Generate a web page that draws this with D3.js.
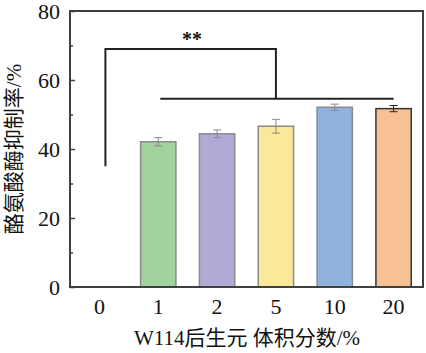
<!DOCTYPE html>
<html>
<head>
<meta charset="utf-8">
<script src="https://cdn.jsdelivr.net/npm/d3@7"></script>
<style>
  body { margin: 0; background: #fff; }
  svg text { font-family: "Liberation Serif", "Noto Sans CJK SC", serif; }
</style>
</head>
<body>
<svg id="chart" width="426" height="353"></svg>
<script>
const categories = ['0', '1', '2', '5', '10', '20']
const values = [0, 42.1, 44.4, 46.6, 52.1, 51.7]
const errors = [0, 1.2, 1.1, 2.0, 0.9, 0.9]
const barColors = ['#ffffff', '#a3d39c', '#b3a9d6', '#fbe99a', '#8fb3de', '#f7c193']
const strokeColors = ['none', '#8a8a8a', '#8a8a8a', '#8a8a8a', '#8a8a8a', '#333333']
const yTicks = [0, 20, 40, 60, 80]
const yMinorTicks = [10, 30, 50, 70]
// significance bracket: from group 0 to group 5, over groups 1..20
const sigLevels = [69, 54.6, 35]
const sigLabel = '**'

const svg = d3.select('#chart')
const margin = {left: 70, right: 3, top: 11, bottom: 66}
const width = 426, height = 353

const x = d3.scaleBand().domain(categories)
    .range([margin.left, width - margin.right]).paddingInner(0.4).paddingOuter(0.2)
const y = d3.scaleLinear().domain([0, 80]).range([height - margin.bottom, margin.top])

const axisColor = '#404040'

// bars
svg.append('g').selectAll('rect')
    .data(categories.filter((d, i) => values[i] > 0))
    .enter()
    .append('rect')
    .attr('x', d => x(d))
    .attr('width', x.bandwidth())
    .attr('y', d => y(values[categories.indexOf(d)]))
    .attr('height', d => y(0) - y(values[categories.indexOf(d)]))
    .attr('fill', d => barColors[categories.indexOf(d)])
    .attr('stroke', d => strokeColors[categories.indexOf(d)])
    .attr('stroke-width', 1.5)

// error bars
const err = svg.append('g').selectAll('g')
    .data(categories.filter((d, i) => values[i] > 0))
    .enter()
    .append('g')
    .attr('stroke', d => categories.indexOf(d) === 5 ? '#222' : '#888')
    .attr('stroke-width', 1)
err.append('line')
    .attr('x1', d => x(d) + x.bandwidth() / 2)
    .attr('x2', d => x(d) + x.bandwidth() / 2)
    .attr('y1', d => { const i = categories.indexOf(d); return y(values[i] + errors[i]) })
    .attr('y2', d => { const i = categories.indexOf(d); return y(values[i] - errors[i]) })
err.append('line')
    .attr('x1', d => x(d) + x.bandwidth() / 2 - 4)
    .attr('x2', d => x(d) + x.bandwidth() / 2 + 4)
    .attr('y1', d => { const i = categories.indexOf(d); return y(values[i] + errors[i]) })
    .attr('y2', d => { const i = categories.indexOf(d); return y(values[i] + errors[i]) })
err.append('line')
    .attr('x1', d => x(d) + x.bandwidth() / 2 - 4)
    .attr('x2', d => x(d) + x.bandwidth() / 2 + 4)
    .attr('y1', d => { const i = categories.indexOf(d); return y(values[i] - errors[i]) })
    .attr('y2', d => { const i = categories.indexOf(d); return y(values[i] - errors[i]) })

// frame
svg.append('rect')
    .attr('x', margin.left).attr('y', margin.top)
    .attr('width', width - margin.right - margin.left)
    .attr('height', height - margin.bottom - margin.top)
    .attr('fill', 'none').attr('stroke', axisColor).attr('stroke-width', 2)

// y axis
const yAxis = svg.append('g')
    .attr('transform', `translate(${margin.left},0)`)
    .call(d3.axisLeft(y).tickValues(yTicks).tickSizeInner(-5).tickSizeOuter(0).tickPadding(10))
yAxis.select('.domain').remove()
yAxis.selectAll('line').attr('stroke', axisColor).attr('stroke-width', 1.5)
yAxis.selectAll('text').attr('font-size', 22).attr('fill', '#111')
    .attr('font-family', '"Liberation Serif", serif')
const yMinor = svg.append('g')
    .attr('transform', `translate(${margin.left},0)`)
    .call(d3.axisLeft(y).tickValues(yMinorTicks).tickSizeInner(-3).tickSizeOuter(0).tickFormat(''))
yMinor.select('.domain').remove()
yMinor.selectAll('line').attr('stroke', axisColor).attr('stroke-width', 1.5)

// x axis
const xAxis = svg.append('g')
    .attr('transform', `translate(0,${height - margin.bottom})`)
    .call(d3.axisBottom(x).tickSize(0).tickPadding(11))
xAxis.select('.domain').remove()
xAxis.selectAll('text').attr('font-size', 22).attr('fill', '#111')
    .attr('font-family', '"Liberation Serif", serif')

// significance bracket
const c = d => x(d) + x.bandwidth() / 2
const sig = svg.append('g').attr('fill', 'none').attr('stroke', '#222').attr('stroke-width', 2)
sig.append('path')
    .attr('d', `M${c('0') + 6},${y(sigLevels[2])}V${y(sigLevels[0])}H${c('5')}V${y(sigLevels[1])}`)
sig.append('line')
    .attr('x1', c('1') + 2).attr('x2', c('20'))
    .attr('y1', y(sigLevels[1])).attr('y2', y(sigLevels[1]))
svg.append('text')
    .attr('x', 192).attr('y', y(sigLevels[0]) - 3)
    .attr('text-anchor', 'middle')
    .attr('font-size', 20).attr('font-weight', 'bold').attr('fill', '#111')
    .attr('font-family', '"DejaVu Sans", sans-serif')
    .text(sigLabel)

// titles
svg.append('text')
    .attr('x', 247).attr('y', 345)
    .attr('text-anchor', 'middle')
    .attr('font-size', 21).attr('fill', '#111')
    .text('W114后生元 体积分数/%')
svg.append('text')
    .attr('transform', 'translate(21,149) rotate(-90)')
    .attr('text-anchor', 'middle')
    .attr('font-size', 21).attr('fill', '#111')
    .text('酪氨酸酶抑制率/%')
</script>
</body>
</html>
